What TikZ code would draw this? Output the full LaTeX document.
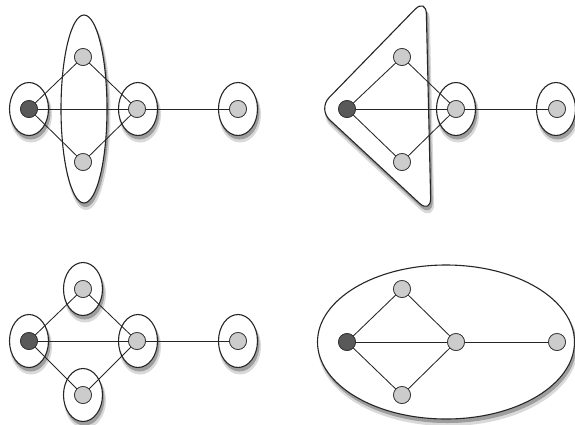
\documentclass[tikz,border=0pt]{standalone}
\usetikzlibrary{shapes.geometric,backgrounds}
\begin{document}
\begin{tikzpicture}[x=1pt,y=-1pt,
  vtx/.style={circle,draw=black!80,line width=0.7pt,minimum size=17pt,inner sep=0pt,fill=black!20},
  src/.style={vtx,fill=black!65},
  hull/.style={draw=black!85,line width=1.1pt,fill=white},
  grp/.style={hull,ellipse,minimum width=39pt,minimum height=53pt,inner sep=0pt},
  shadowA/.style={fill=black!15,draw=black!15,line width=3pt},
  shadowB/.style={fill=black!38,draw=black!38,line width=1pt},
  edge/.style={draw=black!85,line width=0.85pt}]
\useasboundingbox (0,0) rectangle (575,424);
% ---------- shadows (drawn first) ----------
\foreach \s/\dx/\dy in {shadowA/2/5.5, shadowB/1.5/3.5}{
  \foreach \cx/\cy in {29/109,138/109,238/109,456/109,556/109,29/341,83/289,83/395,138/341,238/341}
    \path[\s] (\cx+\dx,\cy+\dy) ellipse [x radius=19.5, y radius=26.5];
  \path[\s] (84+\dx,109+\dy) ellipse [x radius=23, y radius=94];
  \path[\s] (446+\dx,342+\dy) ellipse [x radius=128.5, y radius=77];
  \path[\s,rounded corners=16pt] (318+\dx,109+\dy) -- (426+\dx,-2+\dy) -- (431+\dx,214+\dy) -- cycle;
}
% ---------- panel 1 ----------
\node[grp] (g1a) at (29,109) {};
\node[grp,minimum width=46pt,minimum height=188pt] (g1b) at (84,109) {};
\node[grp] (g1c) at (138,109) {};
\node[grp] (g1d) at (238,109) {};
\node[src] (a1) at (29,109) {};
\node[vtx] (t1) at (83,57) {};
\node[vtx] (b1) at (83,162) {};
\node[vtx] (m1) at (137,109) {};
\node[vtx] (r1) at (238,109) {};
% ---------- panel 2 ----------
\coordinate (p2l) at (318,109);
\coordinate (p2t) at (426,-2);
\coordinate (p2b) at (431,214);
\draw[hull,rounded corners=16pt] (p2l) -- (p2t) -- (p2b) -- cycle;
\node[grp] (g2c) at (456,109) {};
\node[grp] (g2d) at (556,109) {};
\node[src] (a2) at (347,109) {};
\node[vtx] (t2) at (402,57) {};
\node[vtx] (b2) at (402,162) {};
\node[vtx] (m2) at (456,109) {};
\node[vtx] (r2) at (557,109) {};
% ---------- panel 3 ----------
\node[grp] (g3a) at (29,341) {};
\node[grp] (g3t) at (83,289) {};
\node[grp] (g3b) at (83,395) {};
\node[grp] (g3c) at (138,341) {};
\node[grp] (g3d) at (238,341) {};
\node[src] (a3) at (29,341) {};
\node[vtx] (t3) at (83,289) {};
\node[vtx] (b3) at (83,395) {};
\node[vtx] (m3) at (137,341) {};
\node[vtx] (r3) at (238,341) {};
% ---------- panel 4 ----------
\node[grp,minimum width=257pt,minimum height=154pt] (g4) at (446,342) {};
\node[src] (a4) at (347,342) {};
\node[vtx] (t4) at (402,289) {};
\node[vtx] (b4) at (402,395) {};
\node[vtx] (m4) at (456,342) {};
\node[vtx] (r4) at (557,342) {};
% ---------- edges ----------
\foreach \i in {1,2,3,4}{
  \path[edge] (a\i.center) -- (t\i.center) -- (m\i.center) -- (b\i.center) -- cycle;
  \path[edge] (a\i.center) -- (m\i.center);
  \path[edge] (m\i.center) -- (r\i.center);
}
% vertices on top of the edges
\foreach \i in {1,2,3,4}{
  \node[src] at (a\i) {};
  \node[vtx] at (t\i) {};
  \node[vtx] at (b\i) {};
  \node[vtx] at (m\i) {};
  \node[vtx] at (r\i) {};
}
\end{tikzpicture}
\end{document}
